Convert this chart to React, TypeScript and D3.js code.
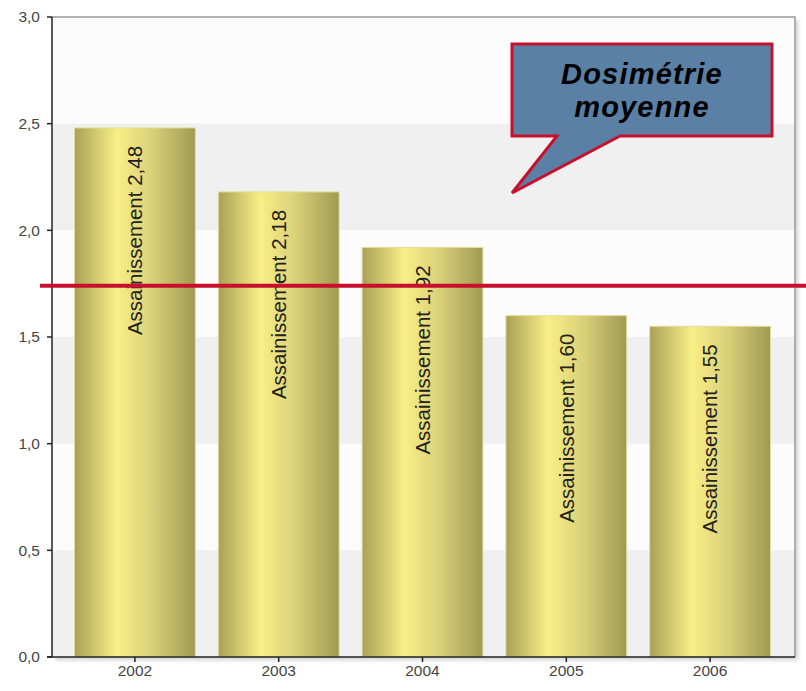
import React from "react";
import * as d3 from "d3";

const years = ["2002", "2003", "2004", "2005", "2006"];
const values = [2.48, 2.18, 1.92, 1.6, 1.55];
const labelPrefix = "Assainissement";
const yTicks = [0, 0.5, 1, 1.5, 2, 2.5, 3];
const bands = [
  [0, 0.5],
  [1, 1.5],
  [2, 2.5],
];
const averageValue = 1.74;
const calloutLines = ["Dosimétrie", "moyenne"];

const W = 806;
const H = 691;
const frame = { left: 52, right: 795, top: 17, bottom: 657 };

export default function App() {
  const y = d3.scaleLinear().domain([0, 3]).range([frame.bottom, frame.top]);
  const x = d3
    .scaleBand<string>()
    .domain(years)
    .range([63, 782])
    .paddingInner(0.16)
    .paddingOuter(0.08);
  const fmt = (v: number) => d3.format(".1f")(v).replace(".", ",");
  const fmt2 = (v: number) => d3.format(".2f")(v).replace(".", ",");
  const font = "'Liberation Sans', Arial, sans-serif";

  // callout geometry
  const cb = { x0: 512, x1: 772, y0: 44, y1: 136 };
  const tail = { a: 557, b: 620, px: 512, py: 193 };
  const calloutPath = `M${cb.x0},${cb.y0} L${cb.x1},${cb.y0} L${cb.x1},${cb.y1} L${tail.b},${cb.y1} L${tail.px},${tail.py} L${tail.a},${cb.y1} L${cb.x0},${cb.y1} Z`;

  return (
    <svg
      width={W}
      height={H}
      style={{ position: "absolute", left: 0, top: 0, background: "#fff" }}
      fontFamily={font}
    >
      <defs>
        <linearGradient id="barGrad" x1="0" x2="1" y1="0" y2="0">
          <stop offset="0" stopColor="#a9a057" />
          <stop offset="0.35" stopColor="#f9ef86" />
          <stop offset="0.65" stopColor="#d9cf78" />
          <stop offset="1" stopColor="#a09952" />
        </linearGradient>
        <filter id="shadow" x="-5%" y="-5%" width="115%" height="115%">
          <feDropShadow dx="3" dy="3" stdDeviation="2" floodColor="#000" floodOpacity="0.18" />
        </filter>
      </defs>

      {/* plot background */}
      <rect
        x={frame.left}
        y={frame.top}
        width={frame.right - frame.left}
        height={frame.bottom - frame.top}
        fill="#fcfcfc"
        filter="url(#shadow)"
      />
      {bands.map(([a, b], i) => (
        <rect
          key={i}
          x={frame.left}
          y={y(b)}
          width={frame.right - frame.left}
          height={y(a) - y(b)}
          fill="#f0f0f0"
        />
      ))}
      {/* top & right frame */}
      <path
        d={`M${frame.left},${frame.top} H${frame.right} V${frame.bottom}`}
        fill="none"
        stroke="#9a9a9a"
        strokeWidth={1.5}
      />

      {/* bars */}
      {years.map((yr, i) => {
        const bx = x(yr)!;
        const bw = x.bandwidth();
        const top = y(values[i]);
        return (
          <g key={yr}>
            <rect
              x={bx}
              y={top}
              width={bw}
              height={frame.bottom - top}
              fill="url(#barGrad)"
              stroke="#e4dc9a"
              strokeWidth={1}
            />
            <text
              transform={`translate(${bx + bw / 2},${top + 18}) rotate(-90)`}
              textAnchor="end"
              dy="0.36em"
              fontSize={20.5}
              fill="#222"
            >
              {`${labelPrefix} ${fmt2(values[i])}`}
            </text>
          </g>
        );
      })}

      {/* y axis */}
      <line x1={frame.left} x2={frame.left} y1={frame.top} y2={frame.bottom} stroke="#222" strokeWidth={1.5} />
      {yTicks.map((t) => (
        <g key={t}>
          <line x1={frame.left - 5} x2={frame.left} y1={y(t)} y2={y(t)} stroke="#222" strokeWidth={1.5} />
          <text x={frame.left - 12} y={y(t)} dy="0.35em" textAnchor="end" fontSize={15.5} fill="#444">
            {fmt(t)}
          </text>
        </g>
      ))}

      {/* x axis */}
      <line x1={frame.left - 5} x2={frame.right} y1={frame.bottom} y2={frame.bottom} stroke="#222" strokeWidth={1.5} />
      {years.map((yr) => {
        const cx = x(yr)! + x.bandwidth() / 2;
        return (
          <g key={yr}>
            <line x1={cx} x2={cx} y1={frame.bottom} y2={frame.bottom + 5} stroke="#222" strokeWidth={1.5} />
            <text x={cx} y={frame.bottom + 8} dy="0.71em" textAnchor="middle" fontSize={15.5} fill="#444">
              {yr}
            </text>
          </g>
        );
      })}

      {/* average line */}
      <line x1={40} x2={W} y1={y(averageValue)} y2={y(averageValue)} stroke="#c8102e" strokeWidth={4} />

      {/* callout */}
      <path d={calloutPath} fill="#5b80a5" stroke="#c8102e" strokeWidth={3} strokeLinejoin="miter" />
      <text
        x={(cb.x0 + cb.x1) / 2}
        y={84}
        textAnchor="middle"
        fontSize={29}
        letterSpacing={1.2}
        fontWeight="bold"
        fontStyle="italic"
        fill="#000"
      >
        {calloutLines[0]}
      </text>
      <text
        x={(cb.x0 + cb.x1) / 2}
        y={117}
        textAnchor="middle"
        fontSize={29}
        letterSpacing={1.2}
        fontWeight="bold"
        fontStyle="italic"
        fill="#000"
      >
        {calloutLines[1]}
      </text>
    </svg>
  );
}
